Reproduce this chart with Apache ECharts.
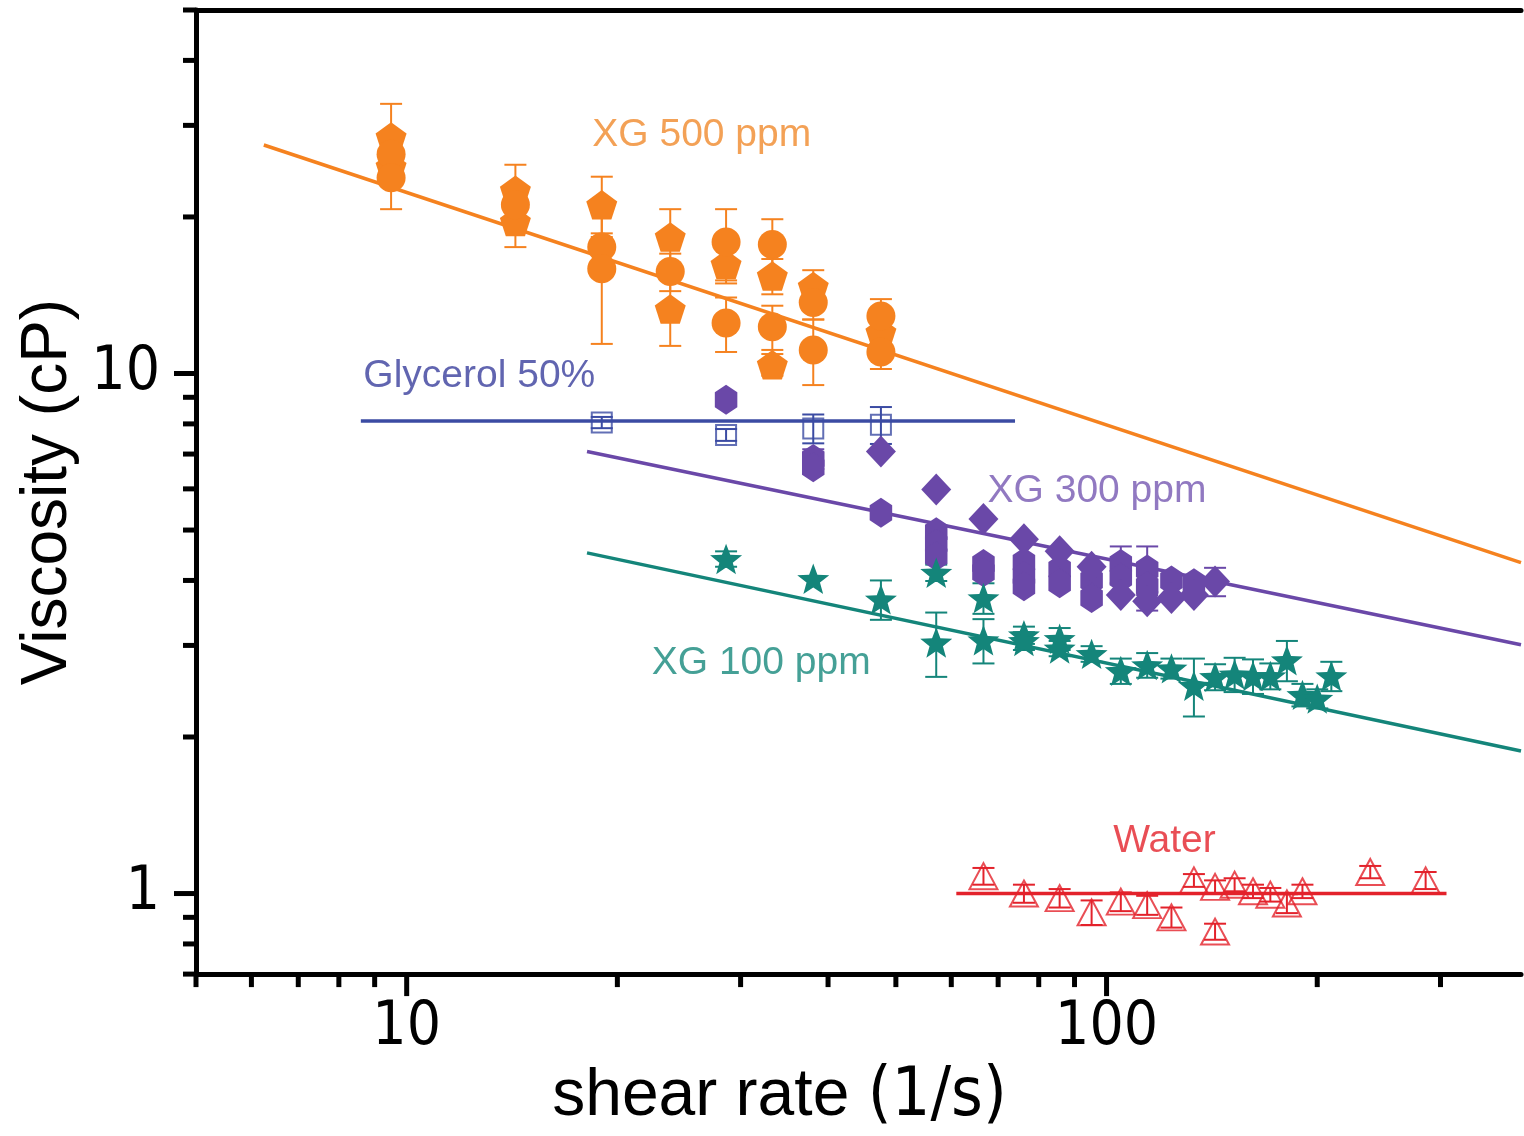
<!DOCTYPE html>
<html>
<head>
<meta charset="utf-8">
<script src="https://cdn.jsdelivr.net/npm/echarts@6/dist/echarts.min.js"></script>
<style>
  html, body { margin: 0; padding: 0; background: #fff; }
  #chart { width: 1524px; height: 1136px; }
</style>
</head>
<body>
<div id="chart"></div>
<script>
// [shear rate (1/s), viscosity (cP), error bar half-height (cP)]
const xg500Pentagon = [
  [9.5, 28.5, 4.5], [9.5, 25.0, 1.2], [14.3, 22.5, 2.7], [14.3, 19.6, 2.1],
  [19.0, 21.1, 2.8], [23.8, 18.3, 2.4], [23.8, 13.3, 2.0], [28.6, 16.2, 1.3],
  [33.3, 15.4, 1.2], [33.3, 10.4, 0.5], [38.1, 14.7, 1.1], [47.6, 12.0, 0.6]
];
const xg500Circle = [
  [9.5, 26.4, 1.0], [9.5, 23.8, 3.1], [14.3, 21.1, 1.0], [19.0, 17.5, 1.1],
  [19.0, 15.9, 4.5], [23.8, 15.7, 1.3], [28.6, 17.9, 2.8], [28.6, 12.5, 1.5],
  [33.3, 17.7, 2.1], [33.3, 12.3, 1.2], [38.1, 13.7, 1.0], [38.1, 11.1, 1.6],
  [47.6, 12.9, 1.0], [47.6, 11.0, 0.8]
];
const xg300Hexagon = [
  [28.6, 8.9, 0], [38.1, 6.85, 0.3], [38.1, 6.6, 0], [47.6, 5.4, 0],
  [57.1, 4.95, 0], [57.1, 4.7, 0], [57.1, 4.45, 0], [66.7, 4.3, 0], [66.7, 4.15, 0],
  [76.2, 4.33, 0], [76.2, 4.08, 0], [76.2, 3.9, 0], [85.7, 4.2, 0], [85.7, 3.95, 0],
  [95.2, 4.0, 0], [95.2, 3.7, 0], [104.8, 4.3, 0.35], [104.8, 4.05, 0],
  [114.3, 4.2, 0.45], [114.3, 3.9, 0], [123.8, 4.0, 0], [133.3, 3.95, 0]
];
const xg300Diamond = [
  [47.6, 7.08, 0], [57.1, 5.98, 0], [66.7, 5.25, 0], [76.2, 4.8, 0], [85.7, 4.55, 0],
  [95.2, 4.25, 0], [104.8, 3.75, 0], [114.3, 3.65, 0.15], [123.8, 3.7, 0],
  [133.3, 3.75, 0], [142.9, 3.98, 0.25]
];
const xg100Star = [
  [28.6, 4.40, 0.15], [38.1, 4.03, 0], [47.6, 3.68, 0.32], [57.1, 4.14, 0.15],
  [57.1, 3.04, 0.43], [66.7, 3.70, 0.25], [66.7, 3.07, 0.3], [76.2, 3.14, 0.12],
  [76.2, 3.06, 0.12], [85.7, 3.09, 0.15], [85.7, 2.96, 0.1], [95.2, 2.89, 0.1],
  [104.8, 2.68, 0.15], [114.3, 2.75, 0.15], [123.8, 2.71, 0.12], [133.3, 2.51, 0.32],
  [142.9, 2.61, 0.15], [152.4, 2.64, 0.2], [161.9, 2.62, 0.2], [171.4, 2.62, 0.15],
  [181.0, 2.81, 0.25], [190.5, 2.41, 0.12], [200.0, 2.37, 0.1], [209.5, 2.62, 0.17]
];
const glycerolSquare = [
  [19.0, 8.05, 0.2], [28.6, 7.62, 0.2], [38.1, 7.84, 0.5], [47.6, 7.97, 0.65]
];
const waterTriangle = [
  [66.7, 1.08, 0.04], [76.2, 1.00, 0.04], [85.7, 0.98, 0.04], [95.2, 0.92, 0.05],
  [104.8, 0.965, 0.04], [114.3, 0.95, 0.04], [123.8, 0.90, 0.04], [133.3, 1.06, 0.03],
  [142.9, 1.03, 0.03], [142.9, 0.845, 0.03], [152.4, 1.04, 0.03], [161.9, 1.01, 0.03],
  [171.4, 0.995, 0.03], [181.0, 0.957, 0.04], [190.5, 1.01, 0.03], [238.1, 1.10, 0.03],
  [285.7, 1.06, 0.04]
];

// power-law fits (end points)
const fitXG500 = [[6.25, 27.5], [391, 4.33]];
const fitXG300 = [[18.1, 7.08], [391, 3.01]];
const fitXG100 = [[18.1, 4.52], [391, 1.88]];
const fitGlycerol = [[8.6, 8.1], [74, 8.1]];
const fitWater = [[61, 1.0], [306, 1.0]];

// in-plot labels
const noteText = ["XG 500 ppm", "Glycerol 50%", "XG 300 ppm", "XG 100 ppm", "Water"];
const noteAt = [[26.4, 28.7], [12.7, 9.88], [96.9, 5.93], [32.1, 2.77], [121, 1.26]];

// axis ticks
const xMajorTicks = [10, 100];
const xMinorTicks = [5, 6, 7, 8, 9, 20, 30, 40, 50, 60, 70, 80, 90, 200, 300];
const yMajorTicks = [1, 10];
const yMinorTicks = [0.7, 0.8, 0.9, 2, 3, 4, 5, 6, 7, 8, 9, 20, 30, 40, 50];

const ORANGE = "#f5821f";
const BLUE = "#3b4ba3";
const PURPLE = "#6a48a8";
const TEAL = "#14857a";
const RED = "#e3222b";
const NOTE_COLORS = ["#f08a2c", "#3a3f9c", "#7658b2", "#17887c", "#e3222b"];

const SANS = "'Liberation Sans', Arial, sans-serif";
const NARROW = "'DejaVu Sans Condensed', 'DejaVu Sans', sans-serif";

const PENTAGON = "path://M0,-1 L0.951,-0.309 L0.588,0.809 L-0.588,0.809 L-0.951,-0.309 Z";
const HEXAGON = "path://M0,-1 L0.866,-0.5 L0.866,0.5 L0,1 L-0.866,0.5 L-0.866,-0.5 Z";
function starPath() {
  const pts = [];
  for (let i = 0; i < 10; i++) {
    const r = i % 2 === 0 ? 1 : 0.42;
    const a = -Math.PI / 2 + (i * Math.PI) / 5;
    pts.push((r * Math.cos(a)).toFixed(3) + "," + (r * Math.sin(a)).toFixed(3));
  }
  return "path://M" + pts.join(" L") + " Z";
}
const STAR = starPath();

function scatter(rows, symbol, size, color, hollow) {
  return {
    type: "scatter",
    data: rows.map((r) => [r[0], r[1]]),
    symbol,
    symbolSize: size,
    symbolKeepAspect: true,
    itemStyle: hollow
      ? { color: "rgba(0,0,0,0)", borderColor: color, borderWidth: 2 }
      : { color, opacity: 1 },
    z: 4,
    silent: true,
  };
}

function errorBars(rows, color) {
  return {
    type: "custom",
    data: rows.filter((r) => r[2] > 0).map((r) => [r[0], r[1] - r[2], r[1] + r[2]]),
    encode: { x: 0, y: [1, 2] },
    renderItem: (params, api) => {
      const lo = api.coord([api.value(0), api.value(1)]);
      const hi = api.coord([api.value(0), api.value(2)]);
      const w = 11;
      const style = { stroke: color, lineWidth: 2 };
      return {
        type: "group",
        children: [
          { type: "line", shape: { x1: lo[0], y1: lo[1], x2: hi[0], y2: hi[1] }, style },
          { type: "line", shape: { x1: lo[0] - w, y1: lo[1], x2: lo[0] + w, y2: lo[1] }, style },
          { type: "line", shape: { x1: hi[0] - w, y1: hi[1], x2: hi[0] + w, y2: hi[1] }, style },
        ],
      };
    },
    z: 3,
    silent: true,
  };
}

function fitLine(points, color) {
  return {
    type: "line",
    data: points,
    symbol: "none",
    lineStyle: { color, width: 3.5 },
    z: 2,
    silent: true,
  };
}

function ticks(values, axis, len) {
  return {
    type: "custom",
    data: values.map((v) => (axis === "x" ? [v, 1] : [10, v])),
    encode: { x: 0, y: 1 },
    clip: false,
    renderItem: (params, api) => {
      const cs = params.coordSys;
      const p = api.coord([api.value(0), api.value(1)]);
      const shape =
        axis === "x"
          ? { x1: p[0], y1: cs.y + cs.height, x2: p[0], y2: cs.y + cs.height + len }
          : { x1: cs.x, y1: p[1], x2: cs.x - len, y2: p[1] };
      return { type: "line", shape, style: { stroke: "#000", lineWidth: 5 } };
    },
    z: 6,
    silent: true,
  };
}

const powerOfTen = (v) => {
  const l = Math.log10(v);
  return Math.abs(l - Math.round(l)) < 1e-6 ? String(Math.round(v)) : "";
};

const option = {
  animation: false,
  backgroundColor: "#fff",
  grid: { left: 196, top: 10, right: 0, bottom: 157, containLabel: false },
  xAxis: [
    {
      type: "log",
      logBase: 10,
      min: 5,
      max: 391,
      axisLine: { onZero: false, lineStyle: { color: "#000", width: 5 } },
      axisTick: { show: false },
      splitLine: { show: false },
      minorTick: { show: false },
      axisLabel: {
        formatter: powerOfTen,
        color: "#000",
        fontFamily: NARROW,
        fontSize: 60,
        margin: 24,
        hideOverlap: false,
      },
      name: "{a|shear rate }{b|(1/s)}",
      nameLocation: "middle",
      nameGap: 84,
      nameTextStyle: {
        padding: [0, 158, 0, 0],
        rich: {
          a: { fontFamily: SANS, fontSize: 66, color: "#000" },
          b: { fontFamily: NARROW, fontSize: 68, color: "#000" },
        },
      },
    },
    {
      // top frame line
      type: "log",
      logBase: 10,
      min: 5,
      max: 391,
      position: "top",
      axisLine: { onZero: false, lineStyle: { color: "#000", width: 5 } },
      axisTick: { show: false },
      axisLabel: { show: false },
      splitLine: { show: false },
    },
  ],
  yAxis: {
    type: "log",
    logBase: 10,
    min: 0.7,
    max: 50,
    axisLine: { onZero: false, lineStyle: { color: "#000", width: 5 } },
    axisTick: { show: false },
    splitLine: { show: false },
    minorTick: { show: false },
    axisLabel: {
      formatter: powerOfTen,
      color: "#000",
      fontFamily: NARROW,
      fontSize: 60,
      margin: 36,
      hideOverlap: false,
    },
    name: "Viscosity (cP)",
    nameLocation: "middle",
    nameGap: 96,
    nameTextStyle: { fontFamily: SANS, fontSize: 64, color: "#000" },
  },
  series: [
    fitLine(fitXG500, ORANGE),
    fitLine(fitXG300, PURPLE),
    fitLine(fitXG100, TEAL),
    fitLine(fitGlycerol, BLUE),
    fitLine(fitWater, RED),
    errorBars(xg500Pentagon, ORANGE),
    errorBars(xg500Circle, ORANGE),
    errorBars(xg300Hexagon, PURPLE),
    errorBars(xg300Diamond, PURPLE),
    errorBars(xg100Star, TEAL),
    errorBars(glycerolSquare, BLUE),
    errorBars(waterTriangle, RED),
    scatter(xg500Pentagon, PENTAGON, 31, ORANGE),
    scatter(xg500Circle, "circle", 29, ORANGE),
    scatter(xg300Hexagon, HEXAGON, [26, 30], PURPLE),
    scatter(xg300Diamond, "diamond", [30, 32], PURPLE),
    scatter(xg100Star, STAR, 32, TEAL),
    scatter(glycerolSquare, "rect", 20, BLUE, true),
    scatter(waterTriangle, "triangle", [28, 26], RED, true),
    {
      type: "scatter",
      symbolSize: 0,
      data: noteAt.map((p, i) => ({
        value: p,
        label: {
          show: true,
          position: "inside",
          formatter: noteText[i],
          color: NOTE_COLORS[i],
          fontFamily: SANS,
          fontSize: 39,
        },
      })),
      z: 7,
      silent: true,
    },
    ticks(xMajorTicks, "x", 22),
    ticks(xMinorTicks, "x", 13),
    ticks(yMajorTicks, "y", 22),
    ticks(yMinorTicks, "y", 13),
  ],
};

echarts.init(document.getElementById("chart")).setOption(option);
</script>
</body>
</html>
